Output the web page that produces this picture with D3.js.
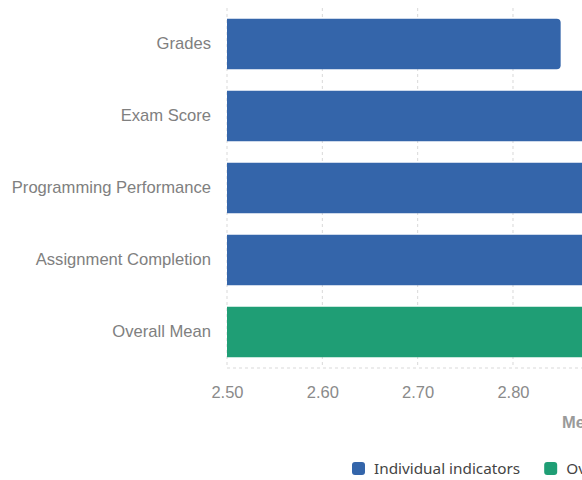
<!DOCTYPE html>
<html>
<head>
<meta charset="utf-8">
<script src="https://cdn.jsdelivr.net/npm/d3@7"></script>
<style>
  html, body { margin: 0; padding: 0; background: #fff; overflow: hidden; }
  svg { display: block; }
</style>
</head>
<body>
<svg id="chart" width="582" height="480"></svg>
<script>
const categories = ["Grades", "Exam Score", "Programming Performance", "Assignment Completion", "Overall Mean"];
const values = [2.85, 3.10, 3.20, 3.25, 3.10];
const groups = ["Individual indicators", "Individual indicators", "Individual indicators", "Individual indicators", "Overall Mean"];
const tickValues = [2.5, 2.6, 2.7, 2.8];
const legendItems = ["Individual indicators", "Overall Mean"];
const colors = { "Individual indicators": "#3465aa", "Overall Mean": "#1f9e75" };
const axisTitle = "Mean Score";

(function () {
const svg = d3.select("#chart");
const plotLeft = 227, plotTop = 8, plotBottom = 368;
const xMax = 3.3;
const x = d3.scaleLinear().domain([2.5, xMax]).range([plotLeft, plotLeft + 0.8 * 953.3]);
const y = d3.scaleBand().domain(categories).range([plotTop, plotBottom]).paddingInner(0.3).paddingOuter(0.15);

// grid
const grid = svg.append("g");
grid.selectAll("line.v").data(tickValues).join("line")
  .attr("x1", d => x(d)).attr("x2", d => x(d))
  .attr("y1", plotTop).attr("y2", plotBottom)
  .attr("stroke", "#d9d9d9").attr("stroke-width", 1).attr("stroke-dasharray", "3,3");
grid.append("line")
  .attr("x1", plotLeft).attr("x2", x(xMax)).attr("y1", plotBottom).attr("y2", plotBottom)
  .attr("stroke", "#d9d9d9").attr("stroke-dasharray", "3,3");

// bars with rounded right corners
const r = 4;
function barPath(d, i) {
  const x0 = x(2.5), x1 = x(d), y0 = y(categories[i]), h = y.bandwidth();
  return `M${x0},${y0} H${x1 - r} Q${x1},${y0} ${x1},${y0 + r} V${y0 + h - r} Q${x1},${y0 + h} ${x1 - r},${y0 + h} H${x0} Z`;
}
svg.append("g").selectAll("path").data(values).join("path")
  .attr("d", (d, i) => barPath(d, i))
  .attr("fill", (d, i) => colors[groups[i]]);

// y axis labels
const yAxis = d3.axisLeft(y).tickSize(0).tickPadding(16);
const ya = svg.append("g").attr("transform", `translate(${plotLeft},0)`).call(yAxis);
ya.select(".domain").remove();
ya.selectAll("text").attr("font-family", "Liberation Sans, Arial, sans-serif")
  .attr("font-size", "16.6px").attr("fill", "#808080");

// x axis labels
const xAxis = d3.axisBottom(x).tickValues(tickValues).tickSize(0).tickPadding(0).tickFormat(d3.format(".2f"));
const xa = svg.append("g").attr("transform", `translate(0,${plotBottom})`).call(xAxis);
xa.select(".domain").remove();
xa.selectAll("text").attr("dy", null).attr("y", 30)
  .attr("font-family", "Liberation Sans, Arial, sans-serif")
  .attr("font-size", "16.5px").attr("fill", "#8a8a8a");

// axis title
svg.append("text").attr("x", (plotLeft + x(xMax)) / 2).attr("y", 428)
  .attr("text-anchor", "middle")
  .attr("font-family", "Liberation Sans, Arial, sans-serif")
  .attr("font-size", "16.5px").attr("font-weight", "bold").attr("fill", "#9a9a9a")
  .text(axisTitle);

// legend
const lg = svg.append("g").attr("transform", "translate(352,462)");
let lx = 0;
legendItems.forEach(name => {
  const g = lg.append("g").attr("transform", `translate(${lx},0)`);
  g.append("rect").attr("width", 13).attr("height", 13).attr("rx", 3).attr("fill", colors[name]);
  const t = g.append("text").attr("x", 22).attr("y", 12)
    .attr("font-family", "Noto Sans, Open Sans, sans-serif").attr("font-size", "15.3px").attr("fill", "#444")
    .text(name);
  lx += 22 + t.node().getComputedTextLength() + 24;
});
})();
</script>
</body>
</html>
